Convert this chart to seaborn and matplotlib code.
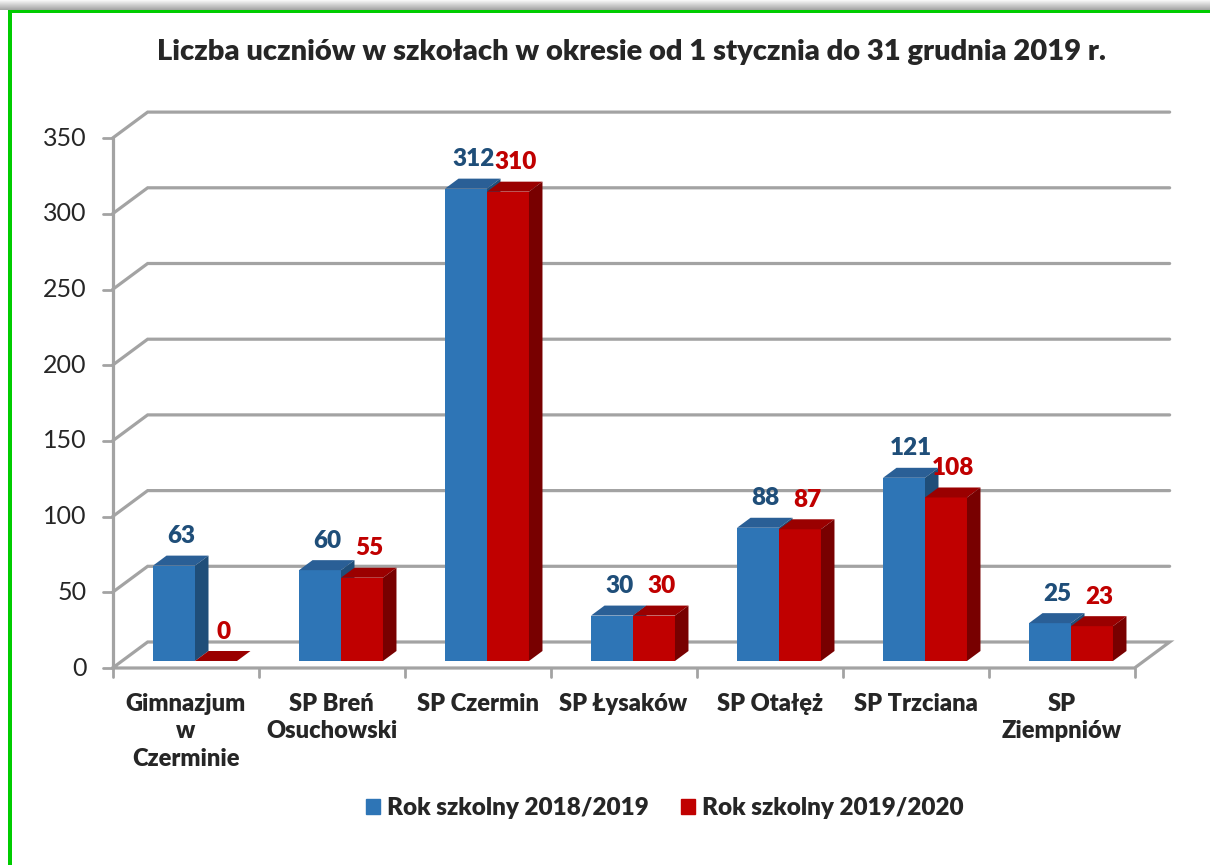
import numpy as np
import pandas as pd
import matplotlib
matplotlib.use("Agg")
import matplotlib.pyplot as plt
import seaborn as sns
from matplotlib.patches import Polygon, Rectangle

# Data
schools = ["Gimnazjum\nw\nCzerminie", "SP Breń\nOsuchowski", "SP Czermin", "SP Łysaków",
           "SP Otałęż", "SP Trzciana", "SP\nZiempniów"]
year_2018 = [63, 60, 312, 30, 88, 121, 25]
year_2019 = [0, 55, 310, 30, 87, 108, 23]
series = ["Rok szkolny 2018/2019", "Rok szkolny 2019/2020"]
y_ticks = [0, 50, 100, 150, 200, 250, 300, 350]
title = "Liczba uczniów w szkołach w okresie od 1 stycznia do 31 grudnia 2019 r."

df = pd.DataFrame({
    "Szkoła": schools * 2,
    "Rok": [series[0]] * len(schools) + [series[1]] * len(schools),
    "Uczniowie": year_2018 + year_2019,
})

# colours: front, top, side, label
blue = ("#2E75B6", "#2A5F96", "#1F4E79", "#1F4E79")
red = ("#C00000", "#9A0000", "#780000", "#C00000")
grid_col = "#A3A3A3"
green = "#00CC00"
BOLD = "heavy"

sns.set_style("white")
plt.rcParams["font.family"] = ["Lato", "DejaVu Sans"]

W, H = 1210, 865
fig = plt.figure(figsize=(W / 100, H / 100), dpi=100)
ax = fig.add_axes([0, 0, 1, 1])

sns.barplot(data=df, x="Szkoła", y="Uczniowie", hue="Rok", palette=[blue[0], red[0]],
            width=0.575, saturation=1, linewidth=0, legend=False, ax=ax)

# pixel layout of the oblique "3D" view
PX_X0, PX_CAT = 195, 146      # pixel x of category 0, pixels per category
PX_Y0, PX_VAL = 661, 1.514    # pixel y of value 0 on bar plane, pixels per unit
ax.set_xlim(-PX_X0 / PX_CAT, (W - PX_X0) / PX_CAT)
ax.set_ylim((PX_Y0 - H) / PX_VAL, PX_Y0 / PX_VAL)
ax.axis("off")


def shift(d):
    # depth d (pixels) -> offset in data units
    return 1.35 * d / PX_CAT, d / PX_VAL


fx, fy = shift(-7)   # front edge of floor
bx, by = shift(19)   # back wall
dx, dy = shift(10)   # bar depth
x_left, x_right = -0.5, len(schools) - 0.5

# walls and gridlines
for v in y_ticks:
    xs = [x_left + fx, x_left + bx, x_right + bx]
    ys = [v + fy, v + by, v + by]
    if v == 0:
        xs += [x_right + fx, x_left + fx]
        ys += [fy, fy]
    ax.plot(xs, ys, color=grid_col, lw=2.3, zorder=1, solid_joinstyle="miter")
    ax.plot([x_left + fx - 0.062, x_left + fx], [v + fy, v + fy], color=grid_col, lw=2, zorder=1)
    ax.text(x_left + fx - 0.178, v + fy, str(v), ha="right", va="center", fontsize=18)
ax.plot([x_left + fx, x_left + fx], [fy, y_ticks[-1] + fy], color=grid_col, lw=2.3, zorder=1)
for k in range(len(schools) + 1):
    xb = x_left + k + fx
    ax.plot([xb, xb], [fy, fy - 6], color=grid_col, lw=2, zorder=1)

for i, name in enumerate(schools):
    ax.text(i + fx, fy - 16.5, name, ha="center", va="top", fontsize=17,
            fontweight=BOLD, linespacing=1.3)

# 3D faces and value labels
for cont, cols in zip(ax.containers, [blue, red]):
    for p in cont:
        x0, w, h = p.get_x(), p.get_width(), p.get_height()
        x1 = x0 + w
        z = 3 + (x0 + 1) * 0.01
        p.set_zorder(z)
        top = Polygon([(x0, h), (x1, h), (x1 + dx, h + dy), (x0 + dx, h + dy)],
                      closed=True, facecolor=cols[1], edgecolor="none", zorder=z)
        side = Polygon([(x1, 0), (x1, h), (x1 + dx, h + dy), (x1 + dx, dy)],
                       closed=True, facecolor=cols[2], edgecolor="none", zorder=z)
        ax.add_patch(top)
        ax.add_patch(side)
        ax.text(x0 + w / 2 + 0.05, h + dy + 5.5, f"{h:.0f}", ha="center", va="bottom",
                color=cols[3], fontsize=17.5, fontweight=BOLD, zorder=10)

fig.text(631.5 / W, 1 - 52 / H, title, ha="center", va="center", fontsize=21, fontweight=BOLD)

handles = [Rectangle((0, 0), 1, 1, color=blue[0]), Rectangle((0, 0), 1, 1, color=red[0])]
fig.legend(handles, series, loc="center", bbox_to_anchor=(665 / W, 1 - 808 / H), ncol=2,
           frameon=False, prop={"size": 17.5, "weight": BOLD}, handlelength=0.55,
           handleheight=0.6, handletextpad=0.3, columnspacing=1.35)

# green frame with a soft shadow on top
for k in range(10):
    g = 1 - 0.035 * (k + 1)
    fig.add_artist(Rectangle((0, 1 - (k + 1) / H), 1, 1 / H, transform=fig.transFigure,
                             facecolor=(g, g, g), edgecolor="none", zorder=0))
fig.add_artist(Rectangle((8 / W, 0), 4 / W, 1 - 10 / H, transform=fig.transFigure,
                         facecolor=green, edgecolor="none"))
fig.add_artist(Rectangle((8 / W, 1 - 13 / H), 1, 3 / H, transform=fig.transFigure,
                         facecolor=green, edgecolor="none"))

fig.savefig("out.png", dpi=100)
